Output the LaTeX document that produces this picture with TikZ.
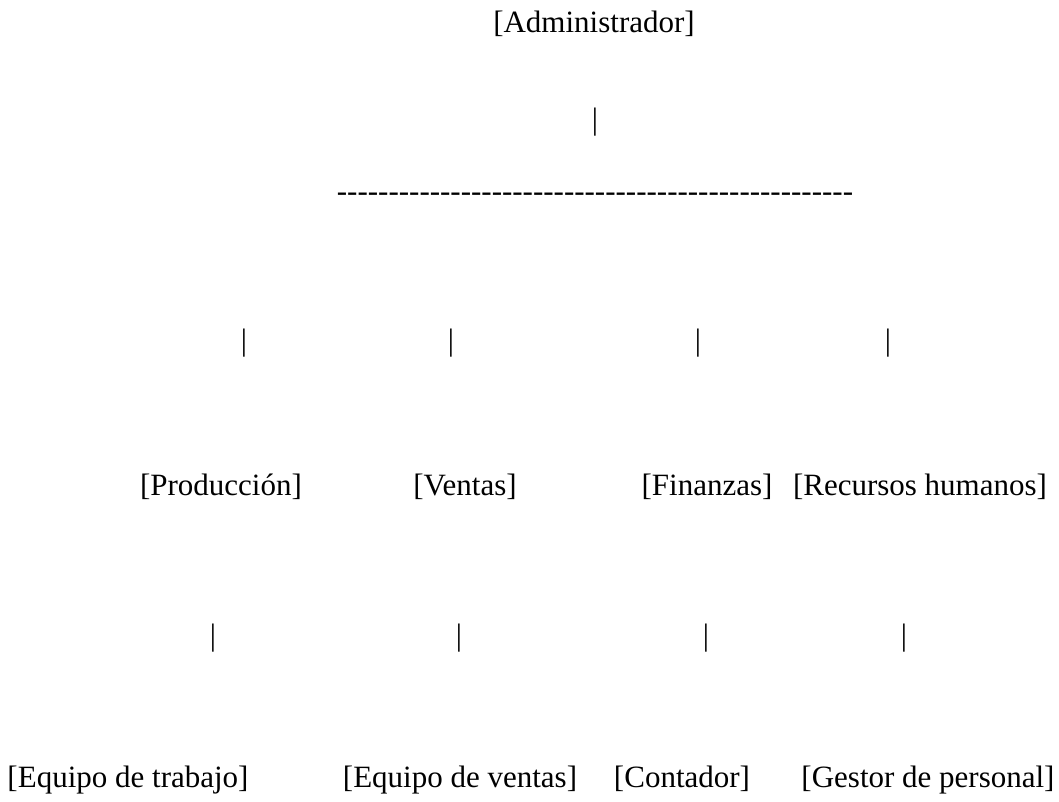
\documentclass[tikz,border=0pt]{standalone}
\usepackage{fontspec}
\setmainfont{Liberation Serif}
\usetikzlibrary{positioning}

\begin{document}
\begin{tikzpicture}[x=0.5pt,y=-0.5pt,
  txt/.style={anchor=base, inner sep=0pt, font=\fontsize{15.5}{18}\selectfont}]
\useasboundingbox (0,0) rectangle (1059,802);

% top
\node[txt] (adm)  at (594,33)  {[Administrador]};
\node[txt] (bar0) at (595,130) {|};
\node[txt] (rule) at (595,202) {\foreach \k in {1,...,50}{-{}}};

% second level
\node[txt] (bar1) at (244,350) {|};
\node[txt] (bar2) at (451,350) {|};
\node[txt] (bar3) at (698,350) {|};
\node[txt] (bar4) at (888,350) {|};

\node[txt] (prod) at (221,495) {[Producción]};
\node[txt] (vent) at (465,495) {[Ventas]};
\node[txt] (fin)  at (707,495) {[Finanzas]};
\node[txt] (rrhh) at (920,495) {[Recursos humanos]};

% third level
\node[txt] (bar5) at (213,645) {|};
\node[txt] (bar6) at (459,645) {|};
\node[txt] (bar7) at (706,645) {|};
\node[txt] (bar8) at (904,645) {|};

\node[txt] (eqt)  at (128,787) {[Equipo de trabajo]};
\node[txt] (eqv)  at (460,787) {[Equipo de ventas]};
\node[txt] (cont) at (682,787) {[Contador]};
\node[txt] (gest) at (928,787) {[Gestor de personal]};
\end{tikzpicture}
\end{document}
